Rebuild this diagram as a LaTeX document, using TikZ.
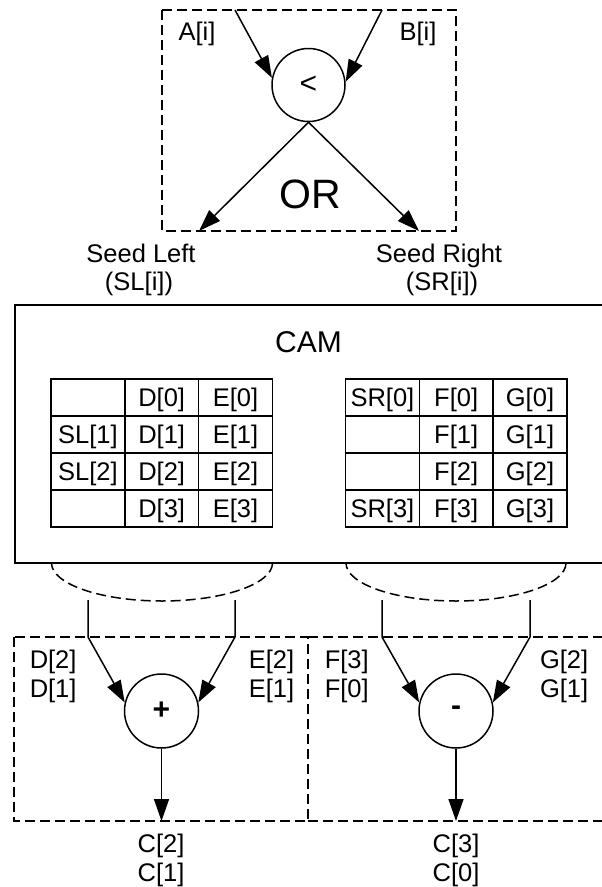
\documentclass[tikz,border=0pt]{standalone}
\usepackage{fontspec}
\setmainfont{Liberation Sans}
\usetikzlibrary{arrows.meta,shapes.geometric}
\begin{document}
\begin{tikzpicture}[x=1pt,y=-1pt,
  line width=1.5pt,
  every node/.style={font=\fontsize{25.5}{29}\selectfont, inner sep=0pt},
  arr/.style={-{Triangle[length=22pt,width=15pt]}},
  dashbox/.style={dash pattern=on 10pt off 5pt},
  cmp/.style={draw,circle,minimum size=73pt,font=\fontsize{30}{34}\selectfont},
  alu/.style={draw,circle,minimum size=74pt,font=\fontsize{30}{34}\selectfont\bfseries},
  cell/.style={draw,minimum width=73.8pt,minimum height=37pt,
    text height=18.5pt,text depth=0pt,anchor=north west,outer sep=0pt}]
\useasboundingbox (0,0) rectangle (602,887);
\clip (0,0) rectangle (602,887);

% ---- comparator stage ----
\draw[dashbox] (162,10) rectangle (456,231);
\node[cmp] (lt) at (308.5,85) {<};
\coordinate (ain) at (235,10);
\coordinate (bin) at (382,10);
\coordinate (slout) at (199,231);
\coordinate (srout) at (419,231);
\draw[arr] (ain) -- (lt.169);
\draw[arr] (bin) -- (lt.5);
\draw[arr] (lt.south) -- (slout);
\draw[arr] (lt.south) -- (srout);
\node[anchor=base] (alab) at (197,40) {A[i]};
\node[anchor=base] (blab) at (418,40) {B[i]};
\node[anchor=base,font=\fontsize{41}{45}\selectfont] (orlab) at (310,208) {OR};
\node[anchor=base] (seedl1) at (141,262) {Seed Left};
\node[anchor=base] (seedl2) at (139,290) {(SL[i])};
\node[anchor=base] (seedr1) at (439,262) {Seed Right};
\node[anchor=base] (seedr2) at (442,290) {(SR[i])};

% ---- CAM block ----
\draw (15,305) rectangle (620,563);
\node[anchor=base,font=\fontsize{30}{34}\selectfont] (camlab) at (308.5,352) {CAM};
\foreach \r/\a/\b/\c in {0/{}/D[0]/E[0],1/SL[1]/D[1]/E[1],2/SL[2]/D[2]/E[2],3/{}/D[3]/E[3]}{
  \node[cell] (L\r-0) at (51,379+37*\r) {\a};
  \node[cell] (L\r-1) at (124.8,379+37*\r) {\b};
  \node[cell] (L\r-2) at (198.6,379+37*\r) {\c};
}
\foreach \r/\a/\b/\c in {0/SR[0]/F[0]/G[0],1/{}/F[1]/G[1],2/{}/F[2]/G[2],3/SR[3]/F[3]/G[3]}{
  \node[cell] (R\r-0) at (345.5,379+37*\r) {\a};
  \node[cell] (R\r-1) at (419.3,379+37*\r) {\b};
  \node[cell] (R\r-2) at (493.1,379+37*\r) {\c};
}
% read-out fans below the tables
\draw[dashbox] (272.5,563) arc[start angle=0,end angle=180,x radius=110.5,y radius=38];
\draw[dashbox] (566,563) arc[start angle=0,end angle=180,x radius=110,y radius=38];

% ---- arithmetic stage ----
\draw[dashbox] (14,637) rectangle (308,821);
\draw[dashbox] (308,637) -- (620,637);
\draw[dashbox] (308,821) -- (620,821);
\node[alu] (plus) at (161.5,711) {+};
\node[alu] (minus) at (456,711) {-};
\coordinate (d1) at (88,600);  \coordinate (d2) at (88,637);
\coordinate (e1) at (235,600); \coordinate (e2) at (235,637);
\coordinate (f1) at (382,600); \coordinate (f2) at (382,637);
\coordinate (g1) at (530,600); \coordinate (g2) at (530,637);
\coordinate (cl) at (161.5,821);
\coordinate (cr) at (456,821);
\draw[arr] (d1) -- (d2) -- (plus.167);
\draw[arr] (e1) -- (e2) -- (plus.13);
\draw[arr] (f1) -- (f2) -- (minus.167);
\draw[arr] (g1) -- (g2) -- (minus.13);
\draw[arr] (plus.south) -- (cl);
\draw[arr] (minus.south) -- (cr);

\node[anchor=base west] (dl2) at (29,668) {D[2]};
\node[anchor=base west] (dl1) at (29,697) {D[1]};
\node[anchor=base east] (el2) at (295,668) {E[2]};
\node[anchor=base east] (el1) at (295,697) {E[1]};
\node[anchor=base west] (fl3) at (324,668) {F[3]};
\node[anchor=base west] (fl0) at (324,697) {F[0]};
\node[anchor=base east] (gl2) at (589,668) {G[2]};
\node[anchor=base east] (gl1) at (589,697) {G[1]};
\node[anchor=base] (cl2) at (161,852) {C[2]};
\node[anchor=base] (cl1) at (161,881) {C[1]};
\node[anchor=base] (cr3) at (456,852) {C[3]};
\node[anchor=base] (cr0) at (456,881) {C[0]};
\end{tikzpicture}
\end{document}
